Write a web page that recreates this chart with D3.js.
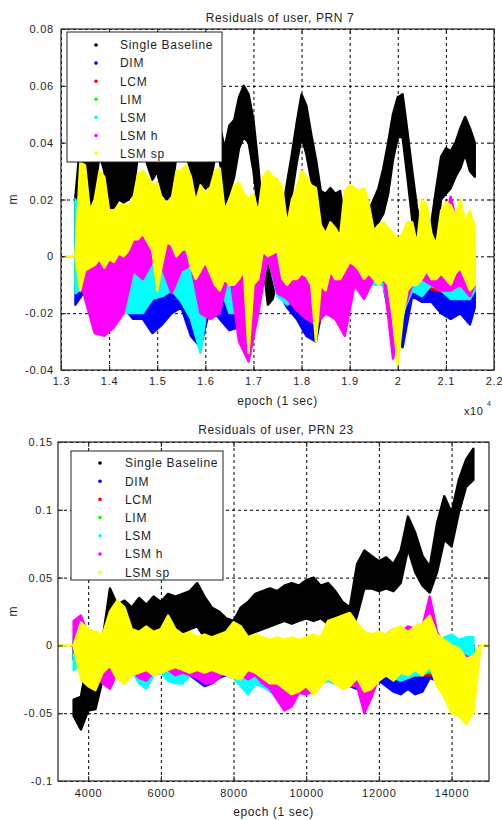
<!DOCTYPE html>
<html>
<head>
<meta charset="utf-8">
<script src="https://cdn.jsdelivr.net/npm/d3@7"></script>
<style>
  body { margin: 0; background: #fff; }
  svg text { font-family: "Liberation Sans", Arial, sans-serif; fill: #1e1e1e; }
</style>
</head>
<body>
<svg id="fig" width="502" height="820"></svg>
<script>
// Residual envelopes. Values are in mm (lo / hi edge of each dot cloud),
// epochs in seconds. null = no data at that epoch.

const seriesNames  = ['Single Baseline', 'DIM', 'LCM', 'LIM', 'LSM', 'LSM h', 'LSM sp'];
const seriesColors = ['#000000', '#0000ff', '#ff0000', '#00ff00', '#00ffff', '#ff00ff', '#ffff00'];

// ---------- PRN 7 ----------
const ep7 = [13100,13200,13300,13400,13500,13600,13700,13800,13900,14000,
  14100,14200,14300,14400,14500,14600,14700,14800,14900,15000,
  15100,15200,15300,15400,15500,15600,15700,15800,15900,16000,
  16100,16200,16300,16400,16500,16600,16700,16800,16900,17000,
  17100,17200,17300,17400,17500,17600,17700,17800,17900,18000,
  18100,18200,18300,18400,18500,18600,18700,18800,18900,19000,
  19100,19200,19300,19400,19500,19600,19700,19800,19900,20000,
  20100,20200,20300,20400,20500,20600,20700,20800,20900,21000,
  21100,21200,21300,21400,21500,21600];
const sb7Lo = [null,null,-10,15,17,17,22,36,30,17,
  17,20,19,20,22,36,38,32,27,30,
  22,20,22,36,38,36,30,20,26,24,
  25,35,34,18,22,28,38,42,40,30,
  16,-2,-17,-15,-8,5,13,22,33,42,
  36,27,21,12,9,13,10,8,3,2,
  2,3,4,6,10,12,15,22,34,42,
  42,28,13,5,0,0,2,6,20,22,
  24,28,31,36,30,28];
const sb7Hi = [null,null,21,40,42,40,42,48,45,40,
  38,40,40,40,42,50,52,48,45,45,
  42,40,40,50,52,50,46,40,42,40,
  40,48,46,38,46,48,56,60,57,48,
  32,12,-4,-2,5,15,26,36,47,57,
  53,43,34,23,22,24,22,23,13,12,
  12,13,14,16,20,24,31,40,50,56,
  57,44,30,17,10,10,12,24,35,38,
  37,40,45,49,45,40];
const sp7Lo = [0,0,0,-12,-5,-4,-3,-1,-4,-1,
  -2,1,0,2,6,6,8,5,2,-12,
  -3,5,4,0,2,3,-4,-8,-5,-2,
  -6,-10,-12,-8,-10,-10,-8,-5,-34,-10,
  -8,2,0,1,2,-8,-10,-8,-8,-6,
  -7,-10,-30,-10,-12,-5,-8,-8,-5,-2,
  -3,-5,-8,-6,-8,-10,-8,-10,-22,-38,
  -22,-12,-10,-10,-8,-5,-8,-8,-6,-8,
  -10,-6,-4,-8,-12,-10];
const sp7Hi = [0,0,0,33,32,16,20,30,28,16,
  16,18,18,18,20,29,30,28,25,26,
  20,19,20,30,30,32,28,19,25,22,
  24,30,31,16,20,25,26,22,20,22,
  15,28,30,28,27,24,11,20,24,30,
  28,25,24,11,8,12,10,7,23,25,
  24,23,24,18,9,11,12,10,8,6,
  8,12,12,4,20,18,8,4,16,19,
  18,14,20,12,16,10];

const ep7c = [13300,13500,13700,13900,14100,14300,14500,14700,14900,15100,
  15300,15500,15700,15900,16100,16300,16500,16700,16900,17100,
  17300,17500,17700,17900,18100,18300,18500,18700,18900,19100,
  19300,19500,19700,19900,20100,20300,20500,20700,20900,21100,
  21300,21500,21600];
const dim7Lo = [-17,-12,-20,-22,-22,-18,-22,-22,-27,-24,
  -20,-18,-28,-32,-18,-22,-26,-25,-30,-12,
  2,-12,-18,-22,-28,-30,-12,-10,-12,-8,
  -8,-8,-10,-28,-32,-14,-16,-16,-20,-22,
  -20,-24,-18];
const dim7Hi = [5,0,0,0,0,0,0,0,0,0,
  0,0,0,0,0,0,0,0,0,0,
  3,0,0,0,0,0,0,0,0,0,
  0,0,0,0,0,0,0,0,0,0,
  0,0,0];
const lsm7Lo = [-13,-10,-15,-20,-22,-20,-20,-20,-15,-14,
  -12,-16,-22,-34,-10,-10,-20,-20,-15,-10,
  0,-14,-17,-15,-20,-15,-10,-10,-10,-10,
  -10,-10,-10,-25,-20,-12,-14,-10,-12,-15,
  -15,-15,-12];
const lsm7Hi = [20,0,0,0,0,2,0,0,0,0,
  0,2,2,0,0,0,0,0,0,0,
  2,0,0,0,0,0,0,0,0,0,
  0,0,0,0,0,0,0,0,0,0,
  0,0,0];
const lsmh7Lo = [0,-15,-27,-28,-25,-20,-5,-8,-2,-4,
  -13,-5,-3,-20,-22,-20,-5,-30,-37,-20,
  0,-13,-15,-19,-22,-24,-20,-22,-28,-10,
  -15,-8,-6,-36,-20,-10,-8,-10,-12,-12,
  -10,-14,-10];
const lsmh7Hi = [0,0,2,0,0,2,6,8,3,2,
  5,2,0,-3,0,0,0,-2,0,5,
  4,3,0,0,0,0,0,0,0,0,
  0,0,0,0,0,2,4,2,6,21,
  6,2,0];

const ep7r = [13300,14300,15300,16300,17300,18300,19300,20300,21300,21600];
const lcm7Lo = [-12,-15,-10,-10,-2,-18,-8,-10,-14,-10];
const lcm7Hi = [2,0,0,0,0,0,0,0,0,0];
const lim7Lo = [-10,-14,-9,-9,-1,-16,-7,-9,-13,-9];
const lim7Hi = [1,0,0,0,0,0,0,0,0,0];

const xTicks7  = [13000,14000,15000,16000,17000,18000,19000,20000,21000,22000];
const xLabels7 = ['1.3','1.4','1.5','1.6','1.7','1.8','1.9','2','2.1','2.2'];
const yTicks7  = [-0.04,-0.02,0,0.02,0.04,0.06,0.08];
const yLabels7 = ['-0.04','-0.02','0','0.02','0.04','0.06','0.08'];

// ---------- PRN 23 ----------
const ep23 = [3200,3400,3600,3800,4000,4200,4400,4600,4800,5000,
  5200,5400,5600,5800,6000,6200,6400,6600,6800,7000,
  7200,7400,7600,7800,8000,8200,8400,8600,8800,9000,
  9200,9400,9600,9800,10000,10200,10400,10600,10800,11000,
  11200,11400,11600,11800,12000,12200,12400,12600,12800,13000,
  13200,13400,13600,13800,14000,14200,14400,14600,14800,15000];
const sb23Lo = [null,null,-52,-62,-48,-47,-25,5,6,4,
  2,6,8,10,10,8,12,8,12,14,
  6,4,2,-6,-4,4,8,10,12,14,
  16,18,16,18,20,18,20,16,12,8,
  6,22,42,42,40,42,40,46,71,54,
  44,39,54,78,73,98,117,122,null,null];
const sb23Hi = [null,null,-40,-38,-8,-18,5,42,30,33,
  28,35,30,36,32,38,36,38,40,46,
  36,28,25,20,18,28,32,38,40,42,
  40,44,46,44,48,50,44,46,40,32,
  28,60,70,66,62,65,60,70,95,83,
  66,58,90,110,98,122,137,145,null,null];
const sp23Lo = [0,0,0,-25,-30,-33,-20,-15,-25,-28,
  -22,-20,-18,-22,-20,-18,-16,-18,-20,-18,
  -20,-18,-20,-22,-24,-25,-18,-20,-24,-28,
  -28,-32,-36,-34,-30,-36,-30,-24,-28,-32,
  -30,-24,-34,-32,-26,-22,-26,-20,-22,-18,
  -22,-15,-30,-38,-50,-52,-58,-50,0,0];
const sp23Hi = [0,0,0,17,12,10,8,25,33,28,
  12,10,14,10,12,22,12,8,10,6,
  8,6,8,10,17,14,6,8,6,4,
  6,4,6,4,6,8,6,18,20,22,
  24,16,10,8,10,8,12,14,10,14,
  16,22,8,4,0,-2,-10,-8,0,0];
const dim23Lo = [null,null,-10,-6,-12,-18,-22,-20,-16,-14,
  -20,-24,-28,-22,-20,-22,-24,-24,-22,-26,
  -30,-28,-24,-22,-24,-28,-32,-28,-30,-32,
  -36,-40,-36,-32,-34,-32,-28,-26,-28,-28,
  -30,-32,-32,-30,-26,-30,-34,-36,-32,-36,
  -34,-24,-26,-34,-36,-28,-20,-22,null,null];
const dim23Hi = [null,null,2,4,2,0,0,0,0,0,
  0,0,0,0,0,0,0,0,0,0,
  0,0,0,0,0,0,0,0,0,0,
  0,0,0,0,0,0,0,0,0,0,
  0,0,0,0,0,0,0,0,0,0,
  0,0,0,0,0,0,0,0,null,null];
const lsm23Lo = [null,null,-18,-15,-15,-20,-22,-25,-15,-12,
  -18,-28,-32,-22,-20,-26,-28,-28,-22,-20,
  -22,-24,-22,-20,-24,-30,-36,-28,-30,-34,
  -36,-42,-38,-32,-34,-32,-28,-26,-28,-28,
  -28,-26,-30,-30,-24,-22,-24,-26,-24,-22,
  -22,-18,-24,-30,-32,-28,-22,-24,null,null];
const lsm23Hi = [null,null,5,5,2,2,4,5,4,2,
  0,0,0,0,0,0,0,0,0,0,
  0,0,0,0,0,0,0,0,0,0,
  0,0,0,0,0,0,0,0,0,0,
  0,0,0,0,0,0,0,0,0,0,
  0,2,0,6,8,4,6,6,null,null];
const lsmh23Lo = [null,null,-5,-8,-20,-22,-28,-32,-20,-15,
  -18,-24,-26,-20,-18,-18,-22,-20,-22,-24,
  -28,-28,-24,-18,-20,-22,-25,-22,-28,-32,
  -40,-48,-45,-35,-36,-34,-28,-24,-26,-28,
  -30,-30,-50,-38,-24,-20,-18,-16,-18,-15,
  -14,-12,-20,-30,-35,-30,-20,-22,null,null];
const lsmh23Hi = [null,null,18,22,8,5,5,4,6,4,
  2,2,0,2,0,2,0,2,0,2,
  0,0,2,0,2,0,2,0,2,0,
  0,0,0,0,2,0,2,4,4,6,
  4,2,2,0,4,8,12,10,14,12,
  14,36,10,0,-5,-5,-8,-10,null,null];

const ep23r = [3600,4600,5600,6600,7600,8600,9600,10600,11600,12600,13600,14600];
const lcm23Lo = [-10,-18,-20,-18,-20,-22,-30,-24,-24,-22,-22,-20];
const lcm23Hi = [2,0,0,0,0,0,0,0,0,0,0,0];
const lim23Lo = [-8,-16,-18,-16,-18,-20,-28,-22,-22,-20,-20,-18];
const lim23Hi = [1,0,0,0,0,0,0,0,0,0,0,0];

const xTicks23  = [4000,6000,8000,10000,12000,14000];
const xLabels23 = ['4000','6000','8000','10000','12000','14000'];
const yTicks23  = [-0.1,-0.05,0,0.05,0.1,0.15];
const yLabels23 = ['-0.1','-0.05','0','0.05','0.1','0.15'];

const svg = d3.select('#fig');

function drawPanel(p) {
    const x = d3.scaleLinear().domain(p.xDomain).range([p.left, p.right]);
    const y = d3.scaleLinear().domain(p.yDomain).range([p.bottom, p.top]);
    const w = p.right - p.left, h = p.bottom - p.top;
    const g = svg.append('g');

    // dashed grid under the data
    g.append('g').attr('transform', `translate(0,${p.bottom})`)
        .call(d3.axisBottom(x).tickValues(p.xTicks).tickSize(-h).tickFormat(''))
        .call(a => a.select('.domain').remove())
        .selectAll('line').attr('stroke', '#000').attr('stroke-dasharray', '3,3');
    g.append('g').attr('transform', `translate(${p.left},0)`)
        .call(d3.axisLeft(y).tickValues(p.yTicks).tickSize(-w).tickFormat(''))
        .call(a => a.select('.domain').remove())
        .selectAll('line').attr('stroke', '#000').attr('stroke-dasharray', '3,3');

    g.append('clipPath').attr('id', 'clip' + p.id)
        .append('rect').attr('x', p.left).attr('y', p.top).attr('width', w).attr('height', h);

    const area = d3.area()
        .defined(d => d.lo != null)
        .x(d => x(d.e))
        .y0(d => y(d.lo / 1000))
        .y1(d => y(d.hi / 1000));

    const dataG = g.append('g').attr('clip-path', `url(#clip${p.id})`);
    p.series.forEach((s, i) => {
        const rows = s.ep.map((e, j) => ({e, lo: s.lo[j], hi: s.hi[j]}));
        dataG.append('path').datum(rows)
            .attr('d', area)
            .attr('fill', seriesColors[i]).attr('stroke', seriesColors[i])
            .attr('stroke-width', 2.4).attr('stroke-linejoin', 'round');
    });

    // inward ticks on all four sides, labels bottom/left
    const tick = 5;
    const xb = g.append('g').attr('transform', `translate(0,${p.bottom})`)
        .call(d3.axisBottom(x).tickValues(p.xTicks).tickFormat((d, i) => p.xLabels[i])
            .tickSize(-tick).tickSizeOuter(0).tickPadding(p.xPad));
    const yl = g.append('g').attr('transform', `translate(${p.left},0)`)
        .call(d3.axisLeft(y).tickValues(p.yTicks).tickFormat((d, i) => p.yLabels[i])
            .tickSize(-tick).tickSizeOuter(0).tickPadding(p.yPad));
    g.append('g').attr('transform', `translate(0,${p.top})`)
        .call(d3.axisTop(x).tickValues(p.xTicks).tickFormat('').tickSize(-tick).tickSizeOuter(0));
    g.append('g').attr('transform', `translate(${p.right},0)`)
        .call(d3.axisRight(y).tickValues(p.yTicks).tickFormat('').tickSize(-tick).tickSizeOuter(0));
    g.selectAll('.domain').remove();
    g.selectAll('.tick line').filter(function(){ return this.getAttribute('stroke-dasharray') == null; })
        .attr('stroke', '#222');
    [xb, yl].forEach(a => a.selectAll('text').attr('font-size', 11).style('letter-spacing', '0.8px'));

    g.append('rect').attr('x', p.left).attr('y', p.top).attr('width', w).attr('height', h)
        .attr('fill', 'none').attr('stroke', '#333').attr('stroke-width', 1.3);

    // title and axis labels
    g.append('text').attr('x', p.titleX).attr('y', p.titleY).attr('text-anchor', 'middle')
        .attr('font-size', 12).style('letter-spacing', '0.6px').text(p.title);
    g.append('text').attr('x', (p.left + p.right) / 2).attr('y', p.xLabelY).attr('text-anchor', 'middle')
        .attr('font-size', 12).style('letter-spacing', '0.6px').text('epoch (1 sec)');
    g.append('text').attr('transform', `translate(17,${(p.top + p.bottom) / 2}) rotate(-90)`)
        .attr('text-anchor', 'middle').attr('font-size', 12).text('m');

    if (p.exponent) {
        g.append('text').attr('x', 464).attr('y', 415).attr('font-size', 11)
            .style('letter-spacing', '0.6px').text('x10');
        g.append('text').attr('x', 487).attr('y', 406).attr('font-size', 7).text(p.exponent);
    }

    // legend
    const L = p.legend;
    const lg = g.append('g');
    lg.append('rect').attr('x', L.x).attr('y', L.y).attr('width', L.w).attr('height', L.h)
        .attr('fill', '#fff').attr('stroke', '#222').attr('stroke-width', 1);
    seriesNames.forEach((name, i) => {
        const cy = L.y + L.first + i * L.step;
        lg.append('circle').attr('cx', L.x + L.mark).attr('cy', cy).attr('r', 1.8)
            .attr('fill', seriesColors[i]);
        lg.append('text').attr('x', L.x + L.text).attr('y', cy).attr('dy', '0.36em')
            .attr('font-size', 12).style('letter-spacing', '0.7px').text(name);
    });
}

drawPanel({
    id: 7, title: 'Residuals of user, PRN 7',
    left: 61, right: 494, top: 29, bottom: 370,
    xDomain: [13000, 22000], yDomain: [-0.04, 0.08],
    xTicks: xTicks7, xLabels: xLabels7, yTicks: yTicks7, yLabels: yLabels7,
    xPad: 7, yPad: 7, titleX: 280, titleY: 22, xLabelY: 405, exponent: '4',
    legend: {x: 67, y: 32, w: 155, h: 130, first: 13, step: 18.1, mark: 29, text: 53},
    series: [
        {ep: ep7,  lo: sb7Lo,   hi: sb7Hi},
        {ep: ep7c, lo: dim7Lo,  hi: dim7Hi},
        {ep: ep7r, lo: lcm7Lo,  hi: lcm7Hi},
        {ep: ep7r, lo: lim7Lo,  hi: lim7Hi},
        {ep: ep7c, lo: lsm7Lo,  hi: lsm7Hi},
        {ep: ep7c, lo: lsmh7Lo, hi: lsmh7Hi},
        {ep: ep7,  lo: sp7Lo,   hi: sp7Hi}
    ]
});

drawPanel({
    id: 23, title: 'Residuals of user, PRN 23',
    left: 58, right: 489, top: 442, bottom: 781,
    xDomain: [3170, 15030], yDomain: [-0.1, 0.15],
    xTicks: xTicks23, xLabels: xLabels23, yTicks: yTicks23, yLabels: yLabels23,
    xPad: 8, yPad: 5, titleX: 276, titleY: 434, xLabelY: 816, exponent: null,
    legend: {x: 71, y: 451, w: 152, h: 129, first: 12, step: 18.2, mark: 29, text: 54},
    series: [
        {ep: ep23,  lo: sb23Lo,   hi: sb23Hi},
        {ep: ep23,  lo: dim23Lo,  hi: dim23Hi},
        {ep: ep23r, lo: lcm23Lo,  hi: lcm23Hi},
        {ep: ep23r, lo: lim23Lo,  hi: lim23Hi},
        {ep: ep23,  lo: lsm23Lo,  hi: lsm23Hi},
        {ep: ep23,  lo: lsmh23Lo, hi: lsmh23Hi},
        {ep: ep23,  lo: sp23Lo,   hi: sp23Hi}
    ]
});
</script>
</body>
</html>
